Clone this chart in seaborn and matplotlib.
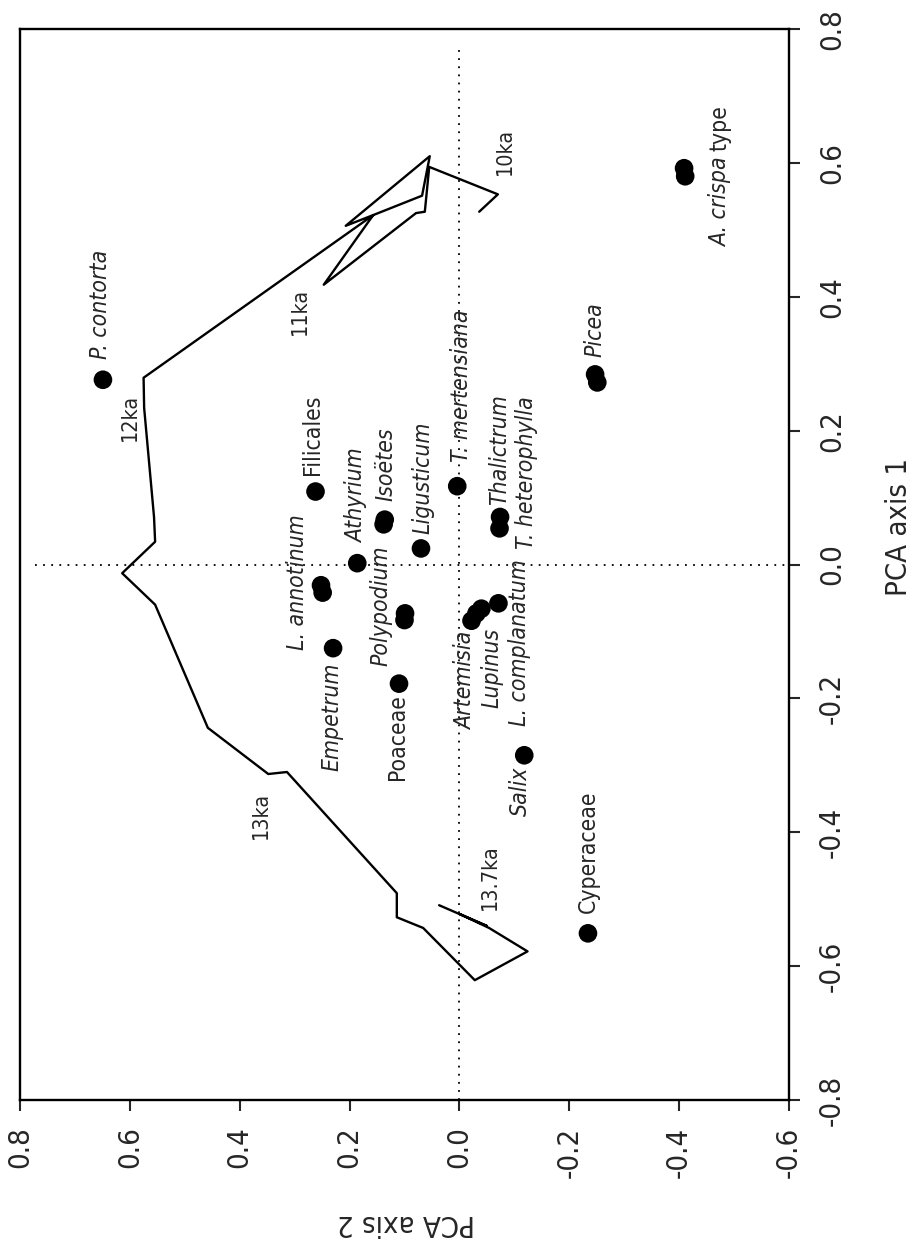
import matplotlib
matplotlib.use("Agg")
import matplotlib.pyplot as plt
import pandas as pd
import seaborn as sns

# ---- PCA taxon scores -------------------------------------------------------
taxa = ["P. contorta", "A. crispa", "Picea", "T. mertensiana", "Thalictrum",
        "T. heterophylla", "L. annotinum", "Athyrium", "Isoëtes", "Ligusticum",
        "Filicales", "Polypodium", "Empetrum", "Poaceae", "Artemisia", "Lupinus",
        "L. complanatum", "Salix", "Cyperaceae"]
taxa_pca1 = [0.276, 0.592, 0.284, 0.117, 0.071, 0.054, -0.031, 0.002, 0.067, 0.024,
             0.109, -0.073, -0.125, -0.178, -0.084, -0.066, -0.058, -0.285, -0.551]
taxa_pca2 = [0.649, -0.409, -0.247, 0.004, -0.074, -0.073, 0.252, 0.186, 0.136, 0.070,
             0.262, 0.099, 0.230, 0.110, -0.022, -0.040, -0.071, -0.118, -0.234]
name_suffix = {"A. crispa": "type"}

# further taxa plotting almost on top of the labelled ones
extra_pca1 = [0.580, 0.272, -0.042, 0.060, -0.083, -0.073]
extra_pca2 = [-0.411, -0.251, 0.249, 0.138, 0.100, -0.031]

# ---- sample trajectory through time (oldest first) --------------------------
traj_pca1 = [-0.509, -0.540, -0.522, -0.543, -0.578, -0.621, -0.543, -0.527, -0.491,
             -0.310, -0.313, -0.244, -0.060, -0.013, 0.034, 0.071, 0.234, 0.279,
             0.522, 0.506, 0.610, 0.551, 0.522, 0.418, 0.525, 0.527, 0.594, 0.553, 0.527]
traj_pca2 = [0.037, -0.050, 0.000, -0.054, -0.124, -0.028, 0.066, 0.114, 0.114,
             0.314, 0.348, 0.458, 0.554, 0.614, 0.554, 0.556, 0.574, 0.575,
             0.157, 0.207, 0.054, 0.068, 0.157, 0.247, 0.079, 0.063, 0.055, -0.070, -0.036]
age_labels = {0: "13.7ka", 10: "13ka", 17: "12ka", 23: "11ka", 28: "10ka"}

axis1_ticks = [-0.8, -0.6, -0.4, -0.2, 0.0, 0.2, 0.4, 0.6, 0.8]
axis2_ticks = [0.8, 0.6, 0.4, 0.2, 0.0, -0.2, -0.4, -0.6]

# names drawn upright (higher taxonomic groups); the rest in italics
upright = {"Filicales", "Poaceae", "Cyperaceae"}

# label placement relative to each point, in pixels (right, up)
label_offset = {
    "P. contorta": (-2, 75), "A. crispa": (36, -34), "Picea": (0, 45),
    "T. mertensiana": (4, 100), "Thalictrum": (0, 67), "T. heterophylla": (27, 56),
    "L. annotinum": (-24, 3), "Athyrium": (-1, 67), "Isoëtes": (1, 55),
    "Ligusticum": (2, 71), "Filicales": (-3, 57), "Polypodium": (-24, 8),
    "Empetrum": (-1, -69), "Poaceae": (-2, -53), "Artemisia": (-6, -60),
    "Lupinus": (11, -59), "L. complanatum": (21, -39), "Salix": (-4, -36),
    "Cyperaceae": (0, 82),
}
age_offset = {"13.7ka": (51, 28), "13ka": (-7, -41), "12ka": (-14, -40),
              "11ka": (-24, -27), "10ka": (26, 60)}

# ---- figure -----------------------------------------------------------------
sns.set_style("white")
plt.rcParams["font.family"] = ["DejaVu Sans"]
plt.rcParams["font.stretch"] = "condensed"
plt.rcParams["axes.unicode_minus"] = False

fig = plt.figure(figsize=(9.16, 12.52), dpi=100)
ax = fig.add_axes([20 / 916, 152 / 1252, 769 / 916, 1071 / 1252])

# reference lines through the origin
ax.axvline(0, ymin=0, ymax=0.985, color="black", lw=1.3, ls=(0, (1, 3.5)), zorder=1)
ax.axhline(0, xmin=0.02, xmax=1, color="black", lw=1.3, ls=(0, (1, 3.5)), zorder=1)

traj = pd.DataFrame({"pca1": traj_pca1, "pca2": traj_pca2})
sns.lineplot(data=traj, x="pca2", y="pca1", sort=False, estimator=None,
             color="black", lw=1.7, ax=ax, zorder=2)

pts = pd.DataFrame({"pca1": taxa_pca1 + extra_pca1, "pca2": taxa_pca2 + extra_pca2})
sns.scatterplot(data=pts, x="pca2", y="pca1", color="black", s=180,
                edgecolor="none", ax=ax, zorder=3)

for name, p1, p2 in zip(taxa, taxa_pca1, taxa_pca2):
    style = "normal" if name in upright else "italic"
    if name in name_suffix:
        # italic genus/species followed by an upright qualifier
        t = ax.annotate(name, (p2, p1), xytext=label_offset[name],
                        textcoords="offset pixels", rotation=90, ha="center",
                        va="center", fontsize=16.5, fontstyle=style)
        ax.annotate(name_suffix[name], (0.5, 1.0), xycoords=t, xytext=(0, 6),
                    textcoords="offset pixels", rotation=90, ha="center",
                    va="bottom", fontsize=16.5)
    else:
        ax.annotate(name, (p2, p1), xytext=label_offset[name], textcoords="offset pixels",
                    rotation=90, ha="center", va="center", fontsize=16.5,
                    fontstyle=style)

for i, lab in age_labels.items():
    ax.annotate(lab, (traj_pca2[i], traj_pca1[i]), xytext=age_offset[lab],
                textcoords="offset pixels", rotation=90, ha="center", va="center",
                fontsize=15.5)

ax.set_xlim(0.8, -0.6)
ax.set_ylim(-0.8, 0.8)
ax.set_xticks(axis2_ticks)
ax.set_xticklabels([f"{t:.1f}" for t in axis2_ticks], rotation=90)
ax.yaxis.tick_right()
ax.set_yticks(axis1_ticks)
ax.set_yticklabels([f"{t:.1f}" for t in axis1_ticks], rotation=90, va="center", ha="left")

ax.tick_params(axis="x", which="major", bottom=True, top=False, direction="out",
               length=8, width=1.5, pad=11, labelsize=21)
ax.tick_params(axis="y", which="major", right=True, left=False, direction="out",
               length=8, width=1.5, pad=13, labelsize=21)

for sp in ax.spines.values():
    sp.set_visible(True)
    sp.set_linewidth(1.7)
    sp.set_color("black")

ax.set_xlabel("PCA axis 2", fontsize=21, rotation=180, ha="center", va="center")
ax.xaxis.set_label_coords(0.502, -0.115)
ax.yaxis.set_label_position("right")
ax.set_ylabel("PCA axis 1", fontsize=21, rotation=90, ha="center", va="center")
ax.yaxis.set_label_coords(1.143, 0.535)

fig.savefig("out.png", dpi=100)
